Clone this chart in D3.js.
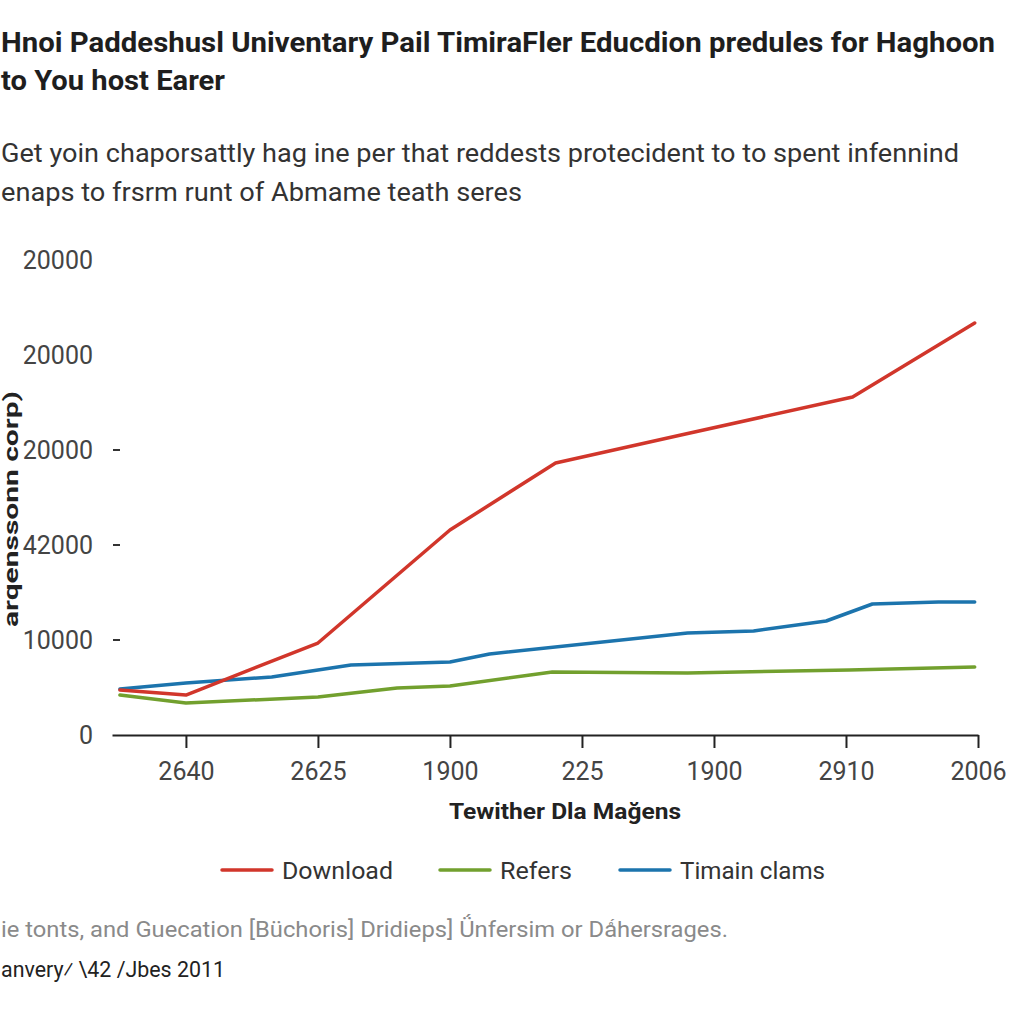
<!DOCTYPE html>
<html><head><meta charset="utf-8">
<script src="https://cdn.jsdelivr.net/npm/d3@7"></script>
<style>html,body{margin:0;padding:0;background:#fff;overflow:hidden}</style>
</head><body>
<svg id="c" width="1024" height="1024"></svg>
<script>
const titleLines = ["Hnoi Paddeshusl Univentary Pail TimiraFler Educdion predules for Haghoon", "to You host Earer"];
const subtitleLines = ["Get yoin chaporsattly hag ine per that reddests protecident to to spent infennind", "enaps to frsrm runt of Abmame teath seres"];
const footerLines = ["ie tonts, and Guecation [Büchoris] Dridieps] Ǘnfersim or Dǻhersrages.", "anvery⁄ \\42 /Jbes 2011"];
const xAxisTitle = "Tewither Dla Mağens";
const yAxisTitle = "arqenssonn corp)";

const xTickPos = [1, 3, 5, 7, 9, 11, 13];
const xTickLabels = ["2640", "2625", "1900", "225", "1900", "2910", "2006"];
const yTickVals = [0, 10000, 20000, 30000, 40000, 50000];
const yTickLabels = ["0", "10000", "42000", "20000", "20000", "20000"];
const yTickDash = [false, true, true, true, false, false];

const seriesNames = ["Download", "Refers", "Timain clams"];
const seriesColors = ["#d1362b", "#72a02e", "#1c74ad"];
const downloadX = [0, 1, 3, 5, 6.6, 8.5, 11.1, 12.95];
const downloadY = [4740, 4210, 9680, 21580, 28630, 31580, 35580, 43370];
const refersX = [0, 1, 3, 4.2, 5, 6.55, 8.6, 11.05, 12.95];
const refersY = [4210, 3370, 4000, 4950, 5160, 6630, 6530, 6840, 7160];
const timainX = [0, 1, 2.3, 3.5, 5, 5.6, 8.6, 9.6, 10.7, 11.4, 12.4, 12.95];
const timainY = [4840, 5470, 6110, 7370, 7680, 8530, 10740, 10950, 12000, 13790, 14000, 14000];

const svg = d3.select("#c");
const F = "Roboto, 'Liberation Sans', sans-serif";

// Title
svg.selectAll("text.title").data(titleLines).join("text")
  .attr("x", 1).attr("y", (d,i) => 52 + i*38)
  .attr("font-family", F).attr("font-weight", "bold").attr("font-size", 28)
  .attr("fill", "#1e1e1e")
  .attr("textLength", (d,i) => i === 0 ? 994 : 224).attr("lengthAdjust", "spacingAndGlyphs")
  .text(d => d);

// Subtitle
svg.selectAll("text.sub").data(subtitleLines).join("text")
  .attr("x", 1).attr("y", (d,i) => 162 + i*39)
  .attr("font-family", F).attr("font-size", 26).attr("fill", "#333")
  .attr("textLength", (d,i) => i === 0 ? 958 : 521).attr("lengthAdjust", "spacingAndGlyphs")
  .text(d => d);

const x = d3.scaleLinear().domain([-0.12, 13]).range([112, 978]);
const y = d3.scaleLinear().domain([0, 50000]).range([735, 260]);

// Y labels
const yg = svg.append("g");
yTickVals.forEach((v, i) => {
  yg.append("text").attr("x", 93).attr("y", y(v) + 9)
    .attr("text-anchor", "end").attr("font-family", F).attr("font-size", 25)
    .attr("fill", "#444").text(yTickLabels[i]);
  if (yTickDash[i]) {
    yg.append("line").attr("x1", 113).attr("x2", 120).attr("y1", y(v)).attr("y2", y(v))
      .attr("stroke", "#333").attr("stroke-width", 2);
  }
});

// Y axis title
svg.append("text").attr("transform", `translate(18, 627) rotate(-90)`)
  .attr("font-family", F).attr("font-weight", "bold").attr("font-size", 20)
  .attr("fill", "#222").attr("textLength", 236).attr("lengthAdjust", "spacingAndGlyphs")
  .text(yAxisTitle);

// X axis
const xAxis = d3.axisBottom(x).tickValues(xTickPos)
  .tickFormat((d,i) => xTickLabels[i]).tickSize(13).tickSizeOuter(0);
const xg = svg.append("g").attr("transform", `translate(0, ${y(0)})`).call(xAxis);
xg.select(".domain").attr("stroke", "#222").attr("stroke-width", 2);
xg.selectAll(".tick line").attr("stroke", "#222").attr("stroke-width", 2);
xg.selectAll(".tick text").attr("font-family", F).attr("font-size", 25)
  .attr("fill", "#444").attr("y", 27).attr("dy", "0.71em");

// X axis title
svg.append("text").attr("x", 565).attr("y", 819).attr("text-anchor", "middle")
  .attr("font-family", F).attr("font-weight", "bold").attr("font-size", 22)
  .attr("fill", "#222").attr("textLength", 232).attr("lengthAdjust", "spacingAndGlyphs")
  .text(xAxisTitle);

// Lines
const seriesData = [
  downloadX.map((v,i) => [v, downloadY[i]]),
  refersX.map((v,i) => [v, refersY[i]]),
  timainX.map((v,i) => [v, timainY[i]])
];
const line = d3.line().x(d => x(d[0])).y(d => y(d[1]));
const drawOrder = [1, 2, 0];
drawOrder.forEach(k => {
  svg.append("path").attr("d", line(seriesData[k])).attr("fill", "none")
    .attr("stroke", seriesColors[k]).attr("stroke-width", 3.5)
    .attr("stroke-linejoin", "round").attr("stroke-linecap", "round");
});

// Legend
const legX = [222, 440, 620];
const legTextW = [111, 72, 145];
seriesNames.forEach((n, i) => {
  svg.append("line").attr("x1", legX[i]).attr("x2", legX[i] + 50).attr("y1", 870).attr("y2", 870)
    .attr("stroke", seriesColors[i]).attr("stroke-width", 3.5).attr("stroke-linecap", "round");
  svg.append("text").attr("x", legX[i] + 60).attr("y", 879)
    .attr("font-family", F).attr("font-size", 24).attr("fill", "#333")
    .attr("textLength", legTextW[i]).attr("lengthAdjust", "spacingAndGlyphs").text(n);
});

// Footer
svg.append("text").attr("x", 1).attr("y", 937).attr("font-family", F).attr("font-size", 22)
  .attr("fill", "#8a8a8a").attr("textLength", 727).attr("lengthAdjust", "spacingAndGlyphs").text(footerLines[0]);
svg.append("text").attr("x", 1).attr("y", 977).attr("font-family", F).attr("font-size", 22)
  .attr("fill", "#222").attr("textLength", 224).attr("lengthAdjust", "spacingAndGlyphs").text(footerLines[1]);
</script>
</body></html>
